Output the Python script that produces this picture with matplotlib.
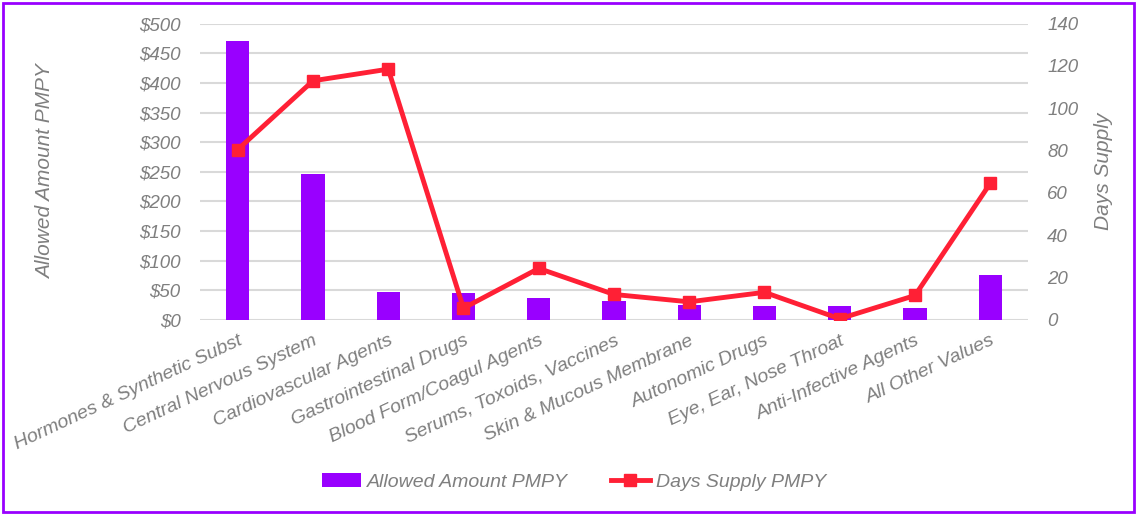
import matplotlib.pyplot as plt
from matplotlib.patches import Rectangle
from matplotlib.ticker import FuncFormatter

# Data
categories = ['Hormones & Synthetic Subst', 'Central Nervous System', 'Cardiovascular Agents',
              'Gastrointestinal Drugs', 'Blood Form/Coagul Agents', 'Serums, Toxoids, Vaccines',
              'Skin & Mucous Membrane', 'Autonomic Drugs', 'Eye, Ear, Nose Throat',
              'Anti-Infective Agents', 'All Other Values']
allowed_amount = [470, 247, 47, 45, 37, 32, 25, 24, 24, 20, 75]
days_supply = [80.5, 113, 118.5, 5.5, 24.3, 12, 8.5, 13, 0.5, 11.5, 64.5]

bar_color = '#9900ff'
line_color = '#ff2035'
text_color = '#7f7f7f'
grid_color = '#d9d9d9'

plt.rcParams['font.family'] = ['Liberation Sans', 'DejaVu Sans']
plt.rcParams['font.style'] = 'italic'

fig = plt.figure(figsize=(11.37, 5.15), dpi=100)
ax = fig.add_axes([0.176, 0.379, 0.728, 0.575])
ax2 = ax.twinx()

x = list(range(len(categories)))
bars = ax.bar(x, allowed_amount, width=0.31, color=bar_color, zorder=2,
              label='Allowed Amount PMPY')
line, = ax2.plot(x, days_supply, color=line_color, linewidth=3.5, marker='s',
                 markersize=9, zorder=3, label='Days Supply PMPY')

ax.set_xlim(-0.5, len(categories) - 0.5)
ax.set_ylim(0, 500)
ax2.set_ylim(0, 140)
ax.set_yticks(range(0, 501, 50))
ax2.set_yticks(range(0, 141, 20))
ax.yaxis.set_major_formatter(FuncFormatter(lambda v, p: '${:.0f}'.format(v)))

ax.grid(axis='y', color=grid_color, linewidth=1.5, zorder=0)
ax.set_axisbelow(True)
for a in (ax, ax2):
    for s in a.spines.values():
        s.set_visible(False)
    a.tick_params(length=0, colors=text_color, labelsize=13.5)
ax.tick_params(axis='y', pad=14)
ax2.tick_params(axis='y', pad=14)

ax.set_xticks(x)
ax.set_xticklabels(categories, rotation=25, ha='right', rotation_mode='anchor',
                   fontsize=14, color=text_color)
ax.tick_params(axis='x', pad=9)

ax.set_ylabel('Allowed Amount PMPY', color=text_color, fontsize=15)
ax2.set_ylabel('Days Supply', color=text_color, fontsize=15)
ax.yaxis.set_label_coords(-0.175, 0.5)
ax2.yaxis.set_label_coords(1.08, 0.5)

fig.legend(handles=[bars, line], loc='center', bbox_to_anchor=(0.505, 0.064), ncol=2,
           frameon=False, fontsize=14, labelcolor=text_color, handlelength=2.0,
           columnspacing=2.2, handletextpad=0.3)

fig.patches.append(Rectangle((0.003, 0.005), 0.994, 0.99, transform=fig.transFigure,
                             fill=False, edgecolor=bar_color, linewidth=2))

fig.savefig('out.png', dpi=100)
